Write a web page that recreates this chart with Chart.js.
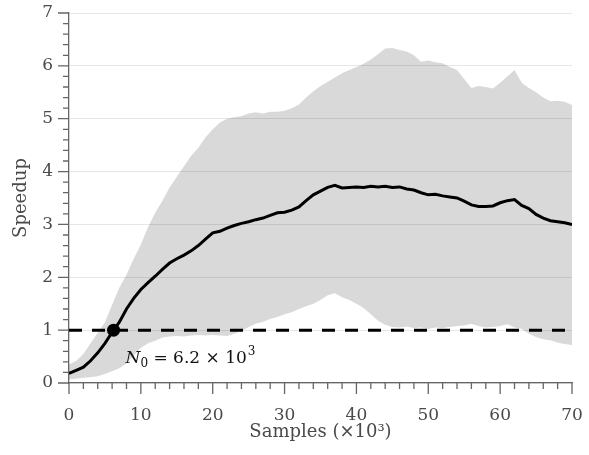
<!DOCTYPE html>
<html>
<head>
<meta charset="utf-8">
<script src="https://cdn.jsdelivr.net/npm/chart.js@4/dist/chart.umd.min.js"></script>
<style>
    html, body { margin: 0; padding: 0; background: #fff; }
    #canvas-holder { width: 589px; height: 455px; }
</style>
</head>
<body>
<div id="canvas-holder"><canvas id="chart-area"></canvas></div>

<script>
    // samples in units of 10^3
    var samples = [0,1,2,3,4,5,6,7,8,9,10,11,12,13,14,15,16,17,18,19,20,
        21,22,23,24,25,26,27,28,29,30,31,32,33,34,35,36,37,38,39,40,
        41,42,43,44,45,46,47,48,49,50,51,52,53,54,55,56,57,58,59,60,
        61,62,63,64,65,66,67,68,69,70];

    var speedupMean = [0.18,0.24,0.30,0.42,0.57,0.75,0.96,1.15,1.40,1.60,1.77,
        1.90,2.02,2.15,2.27,2.35,2.42,2.50,2.60,2.72,2.84,
        2.87,2.93,2.98,3.02,3.05,3.09,3.12,3.17,3.22,3.23,
        3.27,3.33,3.45,3.56,3.63,3.70,3.74,3.69,3.70,3.71,
        3.70,3.72,3.71,3.72,3.70,3.71,3.67,3.65,3.60,3.56,
        3.57,3.54,3.52,3.50,3.44,3.37,3.34,3.34,3.35,3.41,
        3.45,3.47,3.36,3.30,3.19,3.12,3.07,3.05,3.03,3.00];

    var speedupUpper = [0.35,0.42,0.55,0.75,0.95,1.15,1.48,1.80,2.05,2.35,2.62,
        2.95,3.22,3.45,3.70,3.90,4.10,4.30,4.45,4.65,4.80,
        4.93,5.00,5.03,5.05,5.10,5.12,5.10,5.13,5.13,5.15,
        5.20,5.27,5.40,5.52,5.62,5.70,5.78,5.86,5.92,5.98,
        6.04,6.12,6.22,6.33,6.34,6.30,6.27,6.20,6.08,6.10,
        6.07,6.05,5.98,5.92,5.75,5.58,5.62,5.60,5.57,5.68,
        5.80,5.92,5.68,5.58,5.50,5.40,5.33,5.34,5.32,5.26];

    var speedupLower = [0.07,0.08,0.10,0.11,0.13,0.17,0.22,0.28,0.37,0.52,0.66,
        0.75,0.80,0.86,0.88,0.89,0.88,0.90,0.91,0.90,0.91,
        0.90,0.89,0.93,0.98,1.06,1.12,1.16,1.21,1.25,1.30,
        1.34,1.40,1.45,1.50,1.57,1.66,1.70,1.62,1.57,1.50,
        1.42,1.30,1.18,1.10,1.06,1.05,1.07,1.04,1.05,1.02,
        1.05,1.04,1.06,1.08,1.09,1.12,1.08,1.05,1.06,1.08,
        1.11,1.05,1.02,0.93,0.87,0.83,0.81,0.76,0.74,0.72];

    var breakEven = 1;
    var n0 = 6.2;

    var serif = "'DejaVu Serif', 'Liberation Serif', serif";
    var textColor = '#4a4a4a';
    var axisColor = '#666';

    var toPoints = function(ys) {
        return samples.map(function(s, i) { return {x: s, y: ys[i]}; });
    };

    // minor + major tick marks, and the N0 label
    var axisMarks = {
        id: 'axisMarks',
        afterDraw: function(chart) {
            var ctx = chart.ctx, sx = chart.scales.x, sy = chart.scales.y, a = chart.chartArea;
            ctx.save();
            ctx.strokeStyle = axisColor;
            ctx.lineWidth = 1.3;
            ctx.beginPath();
            for (var i = 0; i <= 35; i++) {
                var px = sx.getPixelForValue(i * 2);
                var len = (i % 5 === 0) ? 11 : 6;
                ctx.moveTo(px, a.bottom);
                ctx.lineTo(px, a.bottom + len);
            }
            for (var k = 0; k <= 35; k++) {
                var py = sy.getPixelForValue(k / 5);
                var ylen = (k % 5 === 0) ? 11 : 6;
                ctx.moveTo(a.left, py);
                ctx.lineTo(a.left - ylen, py);
            }
            ctx.stroke();

            // N_0 = 6.2 x 10^3
            var tx = sx.getPixelForValue(n0) + 12;
            var ty = sy.getPixelForValue(breakEven) + 33;
            ctx.fillStyle = '#111';
            ctx.textBaseline = 'alphabetic';
            ctx.textAlign = 'left';
            ctx.font = 'italic 17px ' + serif;
            ctx.fillText('N', tx, ty);
            tx += ctx.measureText('N').width;
            ctx.font = '12px ' + serif;
            ctx.fillText('0', tx, ty + 4);
            tx += ctx.measureText('0').width;
            ctx.font = '17px ' + serif;
            var main = ' = 6.2 \u00d7 10';
            ctx.fillText(main, tx, ty);
            tx += ctx.measureText(main).width;
            ctx.font = '12px ' + serif;
            ctx.fillText('3', tx + 1, ty - 8);
            ctx.restore();
        }
    };

    var config = {
        type: 'line',
        data: {
            datasets: [{
                label: 'upper',
                data: toPoints(speedupUpper),
                borderWidth: 0,
                pointRadius: 0,
                backgroundColor: 'rgba(0,0,0,0.15)',
                fill: '+1',
                order: 4
            }, {
                label: 'lower',
                data: toPoints(speedupLower),
                borderWidth: 0,
                pointRadius: 0,
                fill: false,
                order: 5
            }, {
                label: 'mean',
                data: toPoints(speedupMean),
                borderColor: '#000',
                borderWidth: 3,
                pointRadius: 0,
                fill: false,
                order: 2
            }, {
                label: 'break even',
                data: [{x: samples[0], y: breakEven}, {x: samples[samples.length - 1], y: breakEven}],
                borderColor: '#000',
                borderWidth: 3,
                borderDash: [13, 10],
                pointRadius: 0,
                fill: false,
                order: 1
            }, {
                label: 'N0',
                data: [{x: n0, y: breakEven}],
                showLine: false,
                pointRadius: 6.5,
                pointBackgroundColor: '#000',
                pointBorderWidth: 0,
                order: 0
            }]
        },
        options: {
            responsive: true,
            maintainAspectRatio: false,
            animation: false,
            layout: { padding: { top: 13, right: 17, left: 0, bottom: 0 } },
            plugins: {
                legend: { display: false },
                tooltip: { enabled: false }
            },
            scales: {
                x: {
                    type: 'linear',
                    min: 0,
                    max: 70,
                    afterFit: function(s) {
                        s.height = 72;
                        s.paddingLeft = 0;
                        s.paddingRight = 0;
                    },
                    grid: { display: false },
                    border: { display: true, color: axisColor, width: 1.3 },
                    ticks: {
                        stepSize: 10,
                        padding: 14,
                        maxRotation: 0,
                        color: textColor,
                        font: { family: serif, size: 17 }
                    },
                    title: {
                        display: true,
                        text: 'Samples (\u00d710\u00b3)',
                        color: textColor,
                        font: { family: serif, size: 18 },
                        padding: { top: 0, bottom: 12 }
                    }
                },
                y: {
                    min: 0,
                    max: 7,
                    afterFit: function(s) {
                        s.width = 69;
                        s.paddingTop = 0;
                        s.paddingBottom = 0;
                    },
                    grid: { color: '#e6e6e6', lineWidth: 1, drawTicks: false },
                    border: { display: true, color: axisColor, width: 1.3 },
                    ticks: {
                        stepSize: 1,
                        padding: 16,
                        color: textColor,
                        font: { family: serif, size: 17 }
                    },
                    title: {
                        display: true,
                        text: 'Speedup',
                        color: textColor,
                        font: { family: serif, size: 18 },
                        padding: { top: 11, bottom: 0 }
                    }
                }
            }
        },
        plugins: [axisMarks]
    };

    window.onload = function() {
        var ctx = document.getElementById('chart-area').getContext('2d');
        window.myChart = new Chart(ctx, config);
    };
</script>
</body>
</html>
